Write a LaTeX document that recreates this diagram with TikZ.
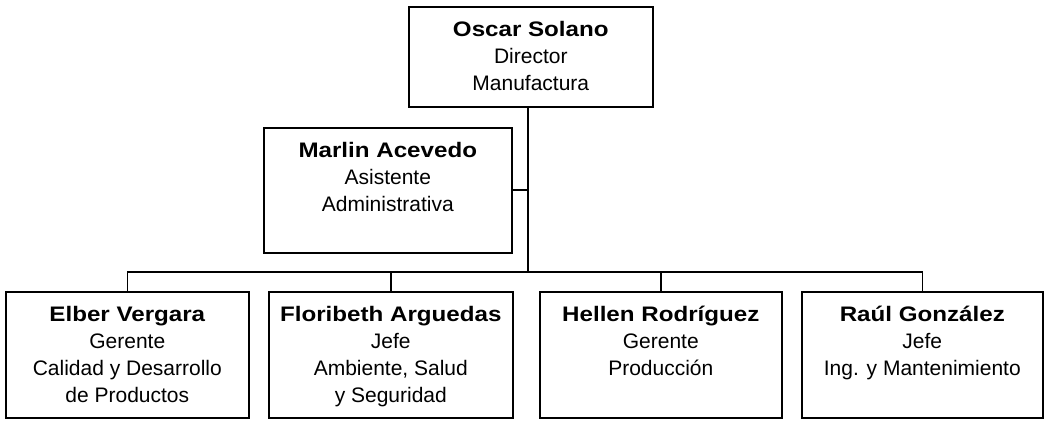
\documentclass[tikz,border=0pt]{standalone}
\usepackage{fontspec}
\setmainfont{Liberation Sans}
\newfontfamily\namefont[FakeStretch=1.15]{Liberation Sans}
\begin{document}
\begin{tikzpicture}[x=1pt,y=-1pt,
  box/.style={draw=black, line width=1.6pt, minimum width=#1, inner sep=0pt, anchor=north west},
  lbl/.style={anchor=north, inner sep=0pt, align=center, font=\fontsize{21}{27}\selectfont},
  link/.style={draw=black, line width=1.6pt},
  thinlink/.style={draw=black, line width=1.1pt}]
\useasboundingbox (0,0) rectangle (1054,420);
% boxes
\node[box=244pt, minimum height=100pt] (oscar) at (408,6) {};
\node[box=248pt, minimum height=125pt] (marlin) at (263,127) {};
\node[box=243pt, minimum height=126pt] (elber) at (5,291) {};
\node[box=244pt, minimum height=126pt] (flori) at (268,291) {};
\node[box=242pt, minimum height=126pt] (hellen) at (539,291) {};
\node[box=241pt, minimum height=126pt] (raul) at (801,291) {};
% texts
\newcommand\nm[1]{{\namefont\bfseries\fontsize{21}{27}\selectfont #1}}
\node[lbl] (oscar-t) at ([yshift=-15pt]oscar.north) {\nm{Oscar Solano}\\Director\\Manufactura};
\node[lbl] (marlin-t) at ([yshift=-15pt]marlin.north) {\nm{Marlin Acevedo}\\Asistente\\Administrativa};
\node[lbl] (elber-t) at ([yshift=-15pt]elber.north) {\nm{Elber Vergara}\\Gerente\\Calidad y Desarrollo\\de Productos};
\node[lbl] (flori-t) at ([yshift=-15pt]flori.north) {\nm{Floribeth Arguedas}\\Jefe\\Ambiente, Salud\\y Seguridad};
\node[lbl] (hellen-t) at ([yshift=-15pt]hellen.north) {\nm{Hellen Rodríguez}\\Gerente\\Producción};
\node[lbl] (raul-t) at ([yshift=-15pt]raul.north) {\nm{Raúl González}\\Jefe\\Ing. y Mantenimiento};
% connectors
\coordinate (bus) at (528,272);
\coordinate (tap) at (528,190);
\draw[link] (oscar.south -| bus) -- (bus);
\draw[thinlink] (marlin.east |- tap) -- (tap);
\draw[link] (elber.north) |- (bus);
\draw[link] (raul.north) |- (bus);
\draw[link] (flori.north) -- (flori.north |- bus);
\draw[link] (hellen.north) -- (hellen.north |- bus);
\end{tikzpicture}
\end{document}
